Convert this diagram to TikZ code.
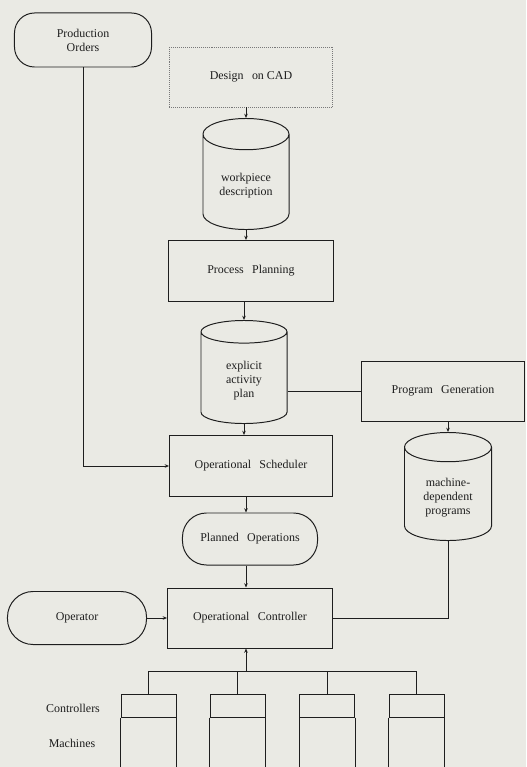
\documentclass[tikz,border=0pt]{standalone}
\usepackage{fontspec}
\setmainfont{Liberation Serif}
\usetikzlibrary{shapes.geometric,arrows.meta}
\definecolor{paper}{RGB}{234,234,228}
\definecolor{ink}{RGB}{30,30,30}
\tikzset{
  every node/.style={font=\fontsize{8.5}{10}\selectfont, text=ink, align=center},
  proc/.style={draw=ink, line width=0.7pt, rectangle},
  term/.style={draw=ink, line width=0.7pt, rectangle, rounded corners=0.5cm},
  store/.style={draw=ink, line width=0.7pt, cylinder, shape border rotate=90, aspect=0.5, anchor=north},
  flow/.style={draw=ink, line width=0.7pt, -{Stealth[length=3pt,width=2.5pt]}},
  link/.style={draw=ink, line width=0.7pt}
}
\newcommand{\gap}{\hspace{0.7em}}
\begin{document}
\begin{tikzpicture}[x=0.025cm, y=-0.025cm]
  \fill[paper] (0,0) rectangle (526,767);
  \useasboundingbox (0,0) rectangle (526,767);

  \node[term, minimum width=3.425cm, minimum height=1.35cm] (prod) at (83,40) {Production\\Orders};
  \node[draw=ink!60, densely dotted, minimum width=4.075cm, minimum height=1.5cm] (cad) at (251,77) {Design\gap on CAD};
  \node[store, minimum width=2.15cm, minimum height=2.775cm] (wpd) at (246,118) {workpiece\\description};
  \node[proc, minimum width=4.1cm, minimum height=1.525cm] (pp) at (251,271) {Process\gap Planning};
  \node[store, minimum width=2.15cm, minimum height=2.575cm] (eap) at (244,320) {explicit\\activity\\plan};
  \node[proc, minimum width=4.075cm, minimum height=1.5cm] (pg) at (443,391) {Program\gap Generation};
  \node[proc, minimum width=4.075cm, minimum height=1.525cm] (os) at (251,466) {Operational\gap Scheduler};
  \node[store, minimum width=2.175cm, minimum height=2.7cm] (mdp) at (448,432) {machine-\\dependent\\programs};
  \node[term, rounded corners=0.6cm, minimum width=3.375cm, minimum height=1.3cm] (po) at (250,539) {Planned\gap Operations};
  \node[proc, minimum width=4.125cm, minimum height=1.5cm] (oc) at (250,618) {Operational\gap Controller};
  \node[term, rounded corners=0.64cm, minimum width=3.475cm, minimum height=1.325cm] (op) at (77,618) {Operator};

  \coordinate (bus) at (246,671);
  \foreach \i/\x in {1/148.5, 2/237.5, 3/327, 4/416.5} {
    \node[proc, minimum width=1.375cm, minimum height=0.575cm] (ctl\i) at (\x,705.5) {};
    \draw[link] (ctl\i.south west) -- ++(0,60);
    \draw[link] (ctl\i.south east) -- ++(0,60);
    \draw[link] (ctl\i.north) -- (ctl\i |- bus);
  }
  \node (lblctl) at (73,708) {Controllers};
  \node (lblmach) at (72,743) {Machines};

  \draw[flow] (cad.south -| wpd.north) -- (wpd.north);
  \draw[flow] (wpd.south) -- (wpd.south |- pp.north);
  \draw[flow] (pp.south -| eap.north) -- (eap.north);
  \draw[flow] (eap.south) -- (eap.south |- os.north);
  \draw[link] (pg.west -| eap.east) -- (pg.west);
  \draw[flow] (pg.south -| mdp.north) -- (mdp.north);
  \draw[link] (mdp.south) |- (oc.east);
  \draw[flow] (prod.south) |- (os.west);
  \draw[flow] (os.south -| bus) -- (po.north -| bus);
  \draw[flow] (po.south -| bus) -- (oc.north -| bus);
  \draw[flow] (op) -- (oc);
  \draw[flow] (bus) -- (oc.south -| bus);
  \draw[link] (ctl1 |- bus) -- (ctl4 |- bus);
\end{tikzpicture}
\end{document}
